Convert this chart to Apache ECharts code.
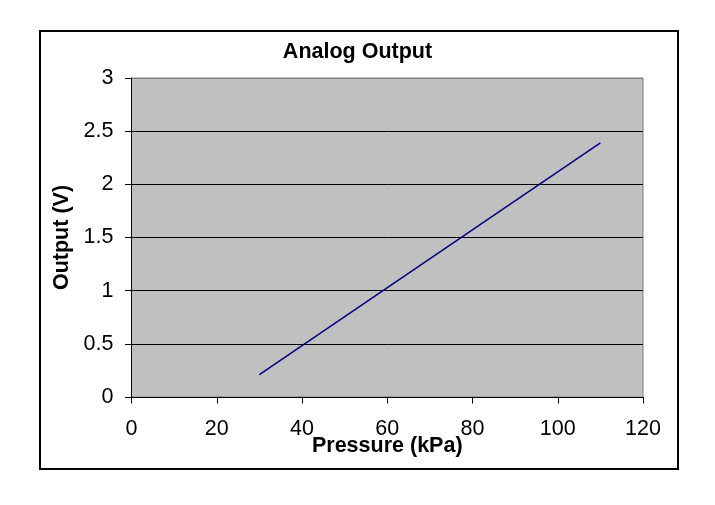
<!DOCTYPE html>
<html>
<head>
<meta charset="utf-8">
<script src="https://cdn.jsdelivr.net/npm/echarts@6/dist/echarts.min.js"></script>
<style>html,body{margin:0;padding:0;background:#fff;}#c{width:715px;height:505px;}</style>
</head>
<body>
<div id="c"></div>
<script>
var pressure = [30, 110];
var output = [0.21, 2.39];
var xTicks = [0, 20, 40, 60, 80, 100, 120];
var yTicks = [0, 0.5, 1, 1.5, 2, 2.5, 3];

var chart = echarts.init(document.getElementById('c'), null, {renderer: 'canvas'});
var font = 'Liberation Sans, Arial, sans-serif';
chart.setOption({
  animation: false,
  backgroundColor: '#fff',
  title: {
    text: 'Analog Output', left: 'center', top: 36,
    textStyle: {fontFamily: font, fontSize: 21.5, fontWeight: 'bold', color: '#000'}
  },
  graphic: [{
    type: 'rect', shape: {x: 40, y: 31, width: 638, height: 438},
    style: {fill: 'none', stroke: '#000', lineWidth: 2}, z: 100
  }],
  grid: {left: 131.5, top: 78, right: 72, bottom: 108, show: true,
    backgroundColor: '#C0C0C0', borderColor: '#808080', borderWidth: 1},
  xAxis: {
    type: 'value', min: xTicks[0], max: xTicks[xTicks.length-1], interval: 20,
    name: 'Pressure (kPa)', nameLocation: 'middle', nameGap: 38, nameMoveOverlap: false,
    nameTextStyle: {fontFamily: font, fontSize: 21.5, fontWeight: 'bold', color: '#000'},
    axisLine: {show: true, lineStyle: {color: '#000', width: 1}},
    axisTick: {show: true, length: 6.5, inside: false, lineStyle: {color: '#000'}},
    axisLabel: {fontFamily: font, fontSize: 21.5, color: '#000', margin: 21},
    splitLine: {show: false}
  },
  yAxis: {
    type: 'value', min: yTicks[0], max: yTicks[yTicks.length-1], interval: 0.5,
    name: 'Output (V)', nameLocation: 'middle', nameGap: 58, nameMoveOverlap: false,
    nameTextStyle: {fontFamily: font, fontSize: 21.5, fontWeight: 'bold', color: '#000'},
    axisLine: {show: true, lineStyle: {color: '#000', width: 1}},
    axisTick: {show: true, length: 6.5, inside: false, lineStyle: {color: '#000'}},
    axisLabel: {fontFamily: font, fontSize: 21.5, color: '#000', margin: 18},
    splitLine: {show: true, lineStyle: {color: ['#000','#000','#000','#000','#000','#000','#808080'], width: 1}}
  },
  series: [{
    type: 'line',
    data: pressure.map(function(p, i){ return [p, output[i]]; }),
    showSymbol: false, symbol: 'none',
    lineStyle: {color: '#000080', width: 1.5}
  }]
});
</script>
</body>
</html>
